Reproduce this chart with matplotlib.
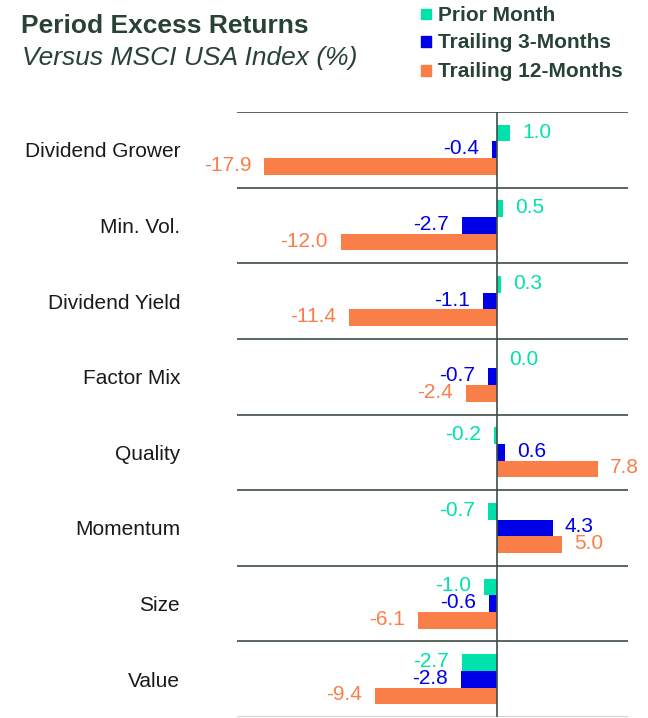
import matplotlib
matplotlib.use("Agg")
import matplotlib.pyplot as plt
from matplotlib.patches import Rectangle

plt.rcParams['font.family'] = ['Liberation Sans', 'DejaVu Sans']

categories = ["Dividend Grower", "Min. Vol.", "Dividend Yield", "Factor Mix",
              "Quality", "Momentum", "Size", "Value"]
series_names = ["Prior Month", "Trailing 3-Months", "Trailing 12-Months"]
prior_month = [1.0, 0.5, 0.3, 0.0, -0.2, -0.7, -1.0, -2.7]
trailing_3m = [-0.4, -2.7, -1.1, -0.7, 0.6, 4.3, -0.6, -2.8]
trailing_12m = [-17.9, -12.0, -11.4, -2.4, 7.8, 5.0, -6.1, -9.4]
series_values = [prior_month, trailing_3m, trailing_12m]
colors = ["#00E2AC", "#0000E6", "#F97E48"]
text_dark = "#284236"
line_col = "#3E4D45"

W, H = 648, 718
fig = plt.figure(figsize=(W / 100, H / 100), dpi=100)

ax_left, ax_right, ax_top, ax_bot = 237, 628, 112, 717
ax = fig.add_axes([ax_left / W, 1 - ax_bot / H,
                   (ax_right - ax_left) / W, (ax_bot - ax_top) / H])

n = len(categories)
bar_h = 0.22
offsets = [-0.22, 0.0, 0.22]

for s, (vals, col, off) in enumerate(zip(series_values, colors, offsets)):
    ys = [i + off for i in range(n)]
    ax.barh(ys, vals, height=bar_h, color=col, edgecolor='none', zorder=2)
    for y, v in zip(ys, vals):
        if v >= 0:
            ax.annotate(f"{v:.1f}", (v, y), xytext=(12, 1), textcoords='offset pixels',
                        ha='left', va='center', color=col, fontsize=15, zorder=4)
        else:
            ax.annotate(f"{v:.1f}", (v, y), xytext=(-13, 1), textcoords='offset pixels',
                        ha='right', va='center', color=col, fontsize=15, zorder=4)

ax.set_xlim(-20.0, 10.08)
ax.set_ylim(n - 0.5, -0.5)

for k in range(n + 1):
    c = line_col if k < n else "#C8C8C8"
    ax.axhline(k - 0.5, color=c, lw=1.2, zorder=3)
ax.axvline(0, color=line_col, lw=1.2, zorder=3)

for sp in ax.spines.values():
    sp.set_visible(False)
ax.set_xticks([])
ax.set_yticks(range(n))
ax.set_yticklabels(categories, fontsize=15, color="#1A1A1A")
ax.tick_params(axis='y', length=0, pad=41)
ax.patch.set_alpha(0)

def fy(py):
    return 1 - py / H

fig.text(21 / W, fy(33.3), "Period Excess Returns", fontsize=19, fontweight='bold',
         color=text_dark, ha='left', va='baseline')
fig.text(22 / W, fy(65), "Versus MSCI USA Index (%)", fontsize=19, style='italic',
         color=text_dark, ha='left', va='baseline')

baselines = [20.7, 48, 77]
for name, col, bl in zip(series_names, colors, baselines):
    fig.patches.append(Rectangle((421 / W, fy(bl - 1.5)), 10 / W, 10 / H,
                                 transform=fig.transFigure, color=col, figure=fig))
    fig.text(438 / W, fy(bl), name, fontsize=15, fontweight='bold', color=text_dark,
             ha='left', va='baseline')

fig.savefig("out.png", dpi=100)
